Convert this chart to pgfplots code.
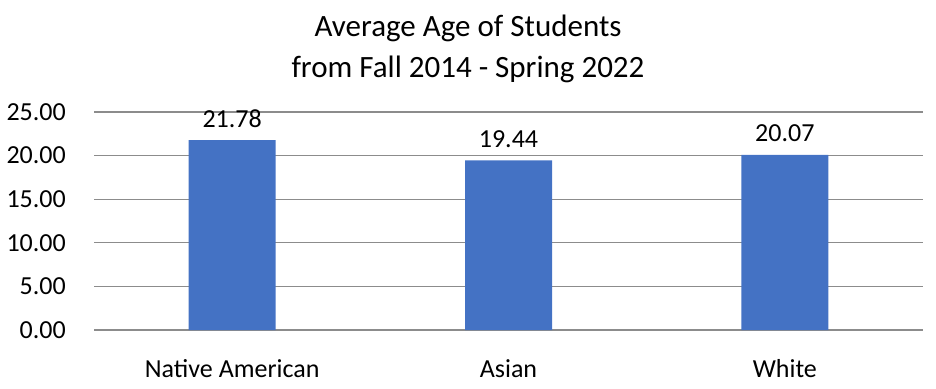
\documentclass[border=0pt]{standalone}
\usepackage{fontspec}
\setmainfont{Carlito}
\usepackage{pgfplots}
\pgfplotsset{compat=1.18}
\definecolor{barblue}{RGB}{68,114,196}
\definecolor{gridgray}{RGB}{140,140,140}
\begin{document}
\begin{tikzpicture}[x=1pt,y=1pt]
\path[use as bounding box] (0,0) rectangle (936,388);
\begin{axis}[
  at={(94pt,58pt)}, anchor=south west,
  width=829pt, height=218pt, scale only axis,
  xmin=-0.5, xmax=2.5, ymin=0, ymax=25,
  ytick={0,5,10,15,20,25},
  xtick={0,1,2},
  xticklabels={Native American,Asian,White},
  axis line style={draw=none},
  major tick length=0pt,
  ymajorgrids, grid style={gridgray, line width=1.2pt},
  /pgf/number format/assume math mode=true,
  yticklabel={\pgfmathprintnumber[fixed,fixed zerofill,precision=2]{\tick}},
  yticklabel style={font=\fontsize{26}{30}\selectfont, anchor=east, inner sep=0pt, xshift=-28pt},
  xticklabel style={font=\fontsize{26}{30}\selectfont, anchor=base, inner sep=0pt, yshift=-47pt},
  ybar, bar width=87pt,
  nodes near coords,
  nodes near coords style={font=\fontsize{26}{30}\selectfont, anchor=base, inner sep=0pt, yshift=13pt,
    /pgf/number format/.cd, fixed, fixed zerofill, precision=2, assume math mode=true},
  clip=false,
]
\addplot[fill=barblue, draw=none] coordinates {(0,21.78) (1,19.44) (2,20.07)};
\end{axis}
\node[anchor=base, inner sep=0pt, font=\fontsize{31}{41}\selectfont] at (468,351) {Average Age of Students};
\node[anchor=base, inner sep=0pt, font=\fontsize{31}{41}\selectfont] at (468,310) {from Fall 2014 - Spring 2022};
\end{tikzpicture}
\end{document}
